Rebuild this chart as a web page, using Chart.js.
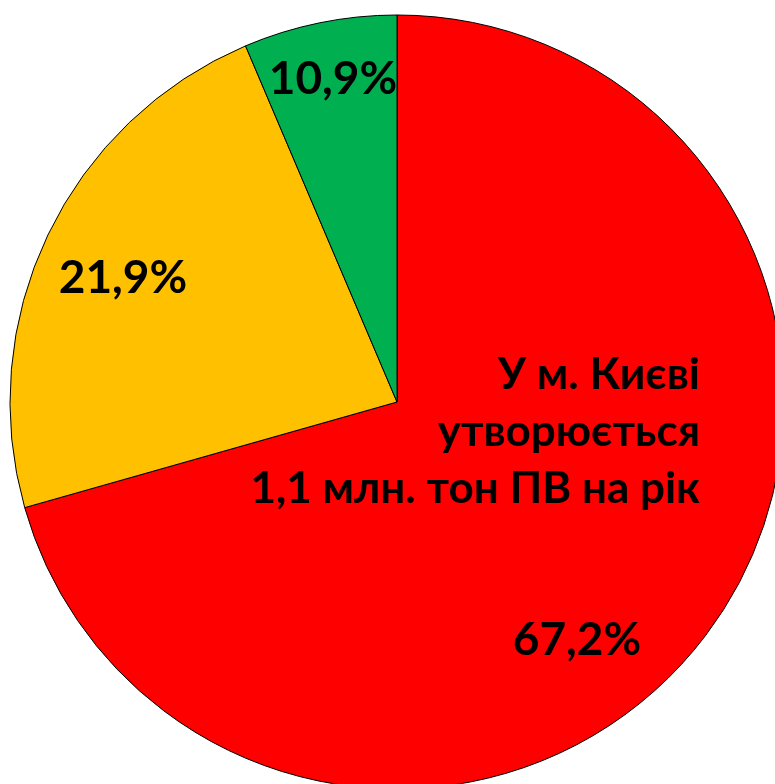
<!DOCTYPE html>
<html>
<head>
<meta charset="utf-8">
<script src="https://cdn.jsdelivr.net/npm/chart.js@4"></script>
<style>
  html, body { margin: 0; padding: 0; background: #fff; overflow: hidden; }
  #wrap { position: relative; width: 775px; height: 784px; }
</style>
</head>
<body>
<div id="wrap"><canvas id="pie" width="775" height="784"></canvas></div>
<script>
// slice shares as drawn in the picture (clockwise from 12 o'clock)
const categories = ["Червоний", "Жовтий", "Зелений"];
const values = [70.6, 23.0, 6.4];
// percent labels printed on the slices
const pctLabels = ["67,2%", "21,9%", "10,9%"];
const colors = ["#FF0000", "#FFC000", "#00B050"];
const noteLines = ["У м. Києві", "утворюється", "1,1 млн. тон ПВ на рік"];

// text overlay drawn after the pie
const textPlugin = {
  id: "pieText",
  afterDatasetsDraw(chart) {
    const ctx = chart.ctx;
    ctx.save();
    ctx.fillStyle = "#000";
    ctx.textBaseline = "alphabetic";
    ctx.textAlign = "center";
    ctx.font = "bold 46px Lato";
    ctx.fillText(pctLabels[0], 577, 655);
    ctx.fillText(pctLabels[1], 123, 293);
    ctx.fillText(pctLabels[2], 333, 94);

    ctx.textAlign = "right";
    ctx.font = "bold 44px Lato";
    noteLines.forEach((line, i) => {
      ctx.fillText(line, 700, 389 + i * 57);
    });
    ctx.restore();
  }
};

const canvas = document.getElementById("pie");
new Chart(canvas.getContext("2d"), {
  type: "pie",
  data: {
    labels: categories,
    datasets: [
      {
        data: values,
        backgroundColor: colors,
        borderColor: "#000",
        borderWidth: 1,
      },
    ],
  },
  options: {
    responsive: false,
    animation: false,
    radius: 387,
    layout: { padding: { left: 19, top: 20 } },
    plugins: {
      legend: { display: false },
      tooltip: { enabled: false },
      title: { display: false },
    },
  },
  plugins: [textPlugin],
});
</script>
</body>
</html>
